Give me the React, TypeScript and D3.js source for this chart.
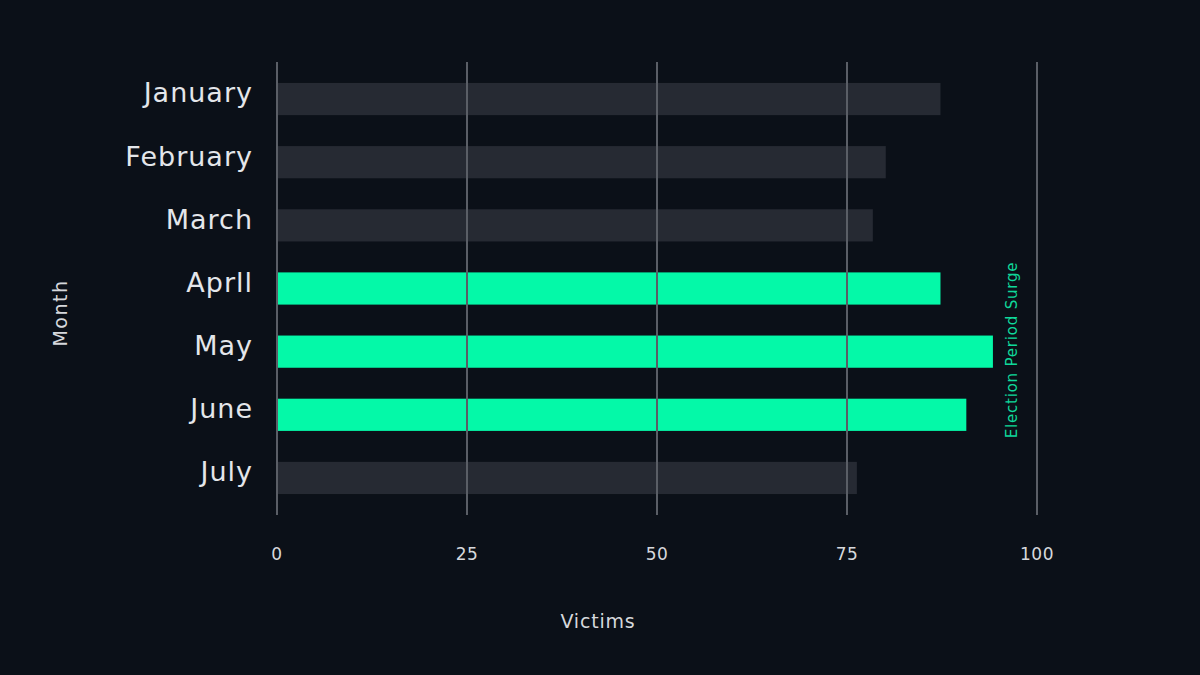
import { useEffect, useRef } from 'react'
import * as d3 from 'd3'

const months = ['January', 'February', 'March', 'Aprll', 'May', 'June', 'July']
const victims = [87.3, 80.1, 78.4, 87.3, 94.2, 90.7, 76.3]
const surgeMonths = ['Aprll', 'May', 'June']
const xTicks = [0, 25, 50, 75, 100]

const FONT = '"DejaVu Sans", sans-serif'

export default function App() {
  const svgRef = useRef<SVGSVGElement>(null)

  useEffect(() => {
    if (!svgRef.current) return
    const width = 1200
    const height = 675

    const svg = d3.select(svgRef.current)
    svg.selectAll('*').remove()

    svg.append('rect')
      .attr('width', width)
      .attr('height', height)
      .attr('fill', '#0b1018')

    const x = d3.scaleLinear().domain([0, 100]).range([277, 1037])
    const y = d3.scaleBand<string>()
      .domain(months)
      .range([52, 525])
      .paddingInner(0.49)
      .paddingOuter(0.49)

    const data = months.map((m, i) => ({ month: m, value: victims[i] }))

    // bars
    svg.append('g')
      .selectAll('rect')
      .data(data)
      .join('rect')
      .attr('x', x(0))
      .attr('y', d => y(d.month)!)
      .attr('width', d => x(d.value) - x(0))
      .attr('height', y.bandwidth())
      .attr('fill', d => surgeMonths.includes(d.month) ? '#04f9a8' : '#262a33')

    // grid lines on top of bars
    svg.append('g')
      .selectAll('line')
      .data(xTicks)
      .join('line')
      .attr('x1', d => x(d))
      .attr('x2', d => x(d))
      .attr('y1', 62)
      .attr('y2', 515)
      .attr('stroke', '#5a5e66')
      .attr('stroke-width', 2)

    // x tick labels
    svg.append('g')
      .selectAll('text')
      .data(xTicks)
      .join('text')
      .attr('x', d => x(d))
      .attr('y', 560)
      .attr('text-anchor', 'middle')
      .style('font-family', FONT)
      .style('font-size', '17px')
      .style('letter-spacing', '0.5px')
      .style('fill', '#d6d8dc')
      .text(d => d)

    // month labels, sitting a little above the bar centre
    svg.append('g')
      .selectAll('text')
      .data(months)
      .join('text')
      .attr('x', 253)
      .attr('y', d => y(d)! + y.bandwidth() / 2 - 6)
      .attr('dy', '0.35em')
      .attr('text-anchor', 'end')
      .style('font-family', FONT)
      .style('font-size', '27px')
      .style('letter-spacing', '1px')
      .style('fill', '#e4e6ea')
      .text(d => d)

    // axis titles
    svg.append('text')
      .attr('x', 598)
      .attr('y', 628)
      .attr('text-anchor', 'middle')
      .style('font-family', FONT)
      .style('font-size', '19px')
      .style('letter-spacing', '0.8px')
      .style('fill', '#d6d8dc')
      .text('Victims')

    svg.append('text')
      .attr('transform', 'translate(67,313) rotate(-90)')
      .attr('text-anchor', 'middle')
      .style('font-family', FONT)
      .style('font-size', '19px')
      .style('letter-spacing', '1.5px')
      .style('fill', '#d6d8dc')
      .text('Month')

    // annotation
    svg.append('text')
      .attr('transform', 'translate(1017,350) rotate(-90)')
      .attr('text-anchor', 'middle')
      .style('font-family', FONT)
      .style('font-size', '15px')
      .style('letter-spacing', '0.8px')
      .style('fill', '#0fd89a')
      .text('Election Period Surge')
  }, [])

  return (
    <div style={{ position: 'absolute', left: 0, top: 0 }}>
      <svg ref={svgRef} width={1200} height={675} style={{ display: 'block' }}></svg>
    </div>
  )
}
